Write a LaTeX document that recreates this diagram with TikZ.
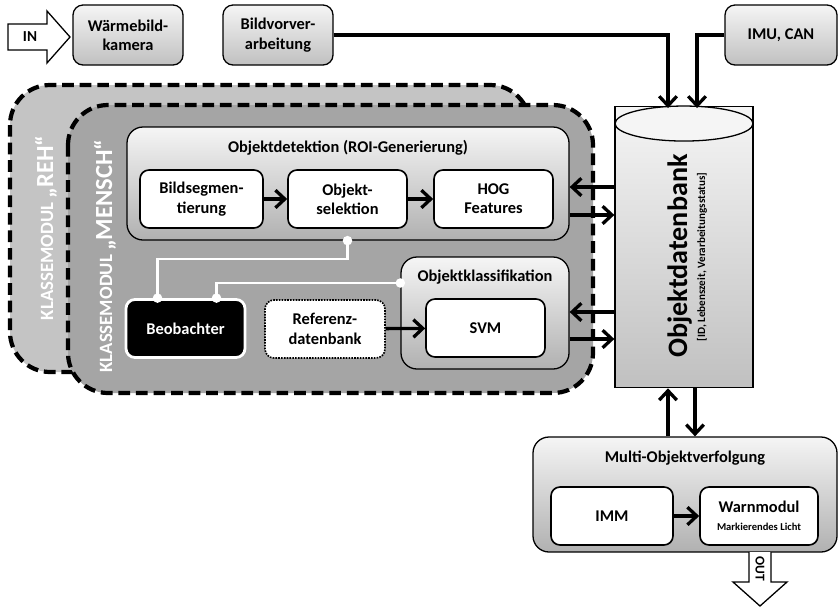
\documentclass[tikz,border=0pt]{standalone}
\usepackage{fontspec}
\setmainfont{Carlito}
\usepackage{tikz}
\usetikzlibrary{
  arrows.meta,
  calc,
  positioning,
  shapes.geometric
}
\definecolor{rehgray}{RGB}{196,196,196}
\definecolor{menschgray}{RGB}{165,165,165}
\definecolor{shadetop}{RGB}{245,245,245}
\definecolor{shadebottom}{RGB}{192,192,192}
\newlength{\pxu}
\setlength{\pxu}{0.03cm}

\tikzset{
  block/.style={draw, line width=1.1pt, rounded corners=10\pxu,
    top color=shadetop, bottom color=shadebottom,
    minimum width=110\pxu, minimum height=60\pxu},
  panel/.style={draw, line width=1.1pt, rounded corners=16\pxu,
    top color=shadetop, bottom color=shadebottom!92!black},
  subbox/.style={draw, line width=1.4pt, rounded corners=9\pxu, fill=white,
    minimum width=119\pxu, minimum height=58\pxu},
  flow/.style={line width=2.8pt, -{Straight Barb[length=8pt,width=15pt,line width=2.8pt]}},
  wire/.style={white, line width=1.8pt, {Circle[length=8pt]}-{Circle[length=8pt]},
    shorten <=-4pt, shorten >=-4pt},
  region/.style={line width=3.6pt, dash pattern=on 10pt off 5pt, rounded corners=40\pxu},
  modlabel/.style={white, rotate=90, anchor=base, font=\fontsize{16}{18}\selectfont\bfseries}
}

\begin{document}
\begin{tikzpicture}[x=0.03cm, y=-0.03cm, font=\fontsize{14}{16.5}\selectfont\bfseries,
  every node/.append style={align=center, inner sep=0pt}]
  \useasboundingbox (0,0) rectangle (839,607);

  % class modules, REH lies behind MENSCH
  \draw[region, fill=rehgray] (10,85) rectangle (530,372);
  \draw[region, fill=menschgray] (68,105) rectangle (593,393);
  \node[modlabel] (rehlabel) at (53,228) {KLASSEMODUL {\fontsize{21}{24}\selectfont „REH“}};
  \node[modlabel] (menschlabel) at (112,256) {KLASSEMODUL {\fontsize{21}{24}\selectfont „MENSCH“}};

  % input chain
  \draw[line width=1.1pt, fill=white] (8,24) -- (47,24) -- (47,11) -- (70,37) -- (47,63) -- (47,50) -- (8,50) -- cycle;
  \node[font=\fontsize{13}{15}\selectfont\bfseries] (in) at (30,37) {IN};
  \node[block] (cam) at (128,35) {Wärmebild-\\kamera};
  \node[block] (prep) at (278,35) {Bildvorver-\\arbeitung};
  \node[block, minimum width=112\pxu] (imu) at (781,35) {IMU, CAN};

  % object database
  \node[cylinder, shape border rotate=90, draw, line width=1.1pt, aspect=0.5,
    minimum width=138\pxu, minimum height=281\pxu,
    top color=shadetop, bottom color=shadebottom] (db) at (684,247.5) {};
  \draw[line width=1.1pt, fill=shadetop] ($(db.north)+(0,17.5)$) ellipse [x radius=69\pxu, y radius=17.5\pxu];
  \node[rotate=90, anchor=base, font=\fontsize{24}{28}\selectfont\bfseries] (dbtitle) at (687,256) {Objektdatenbank};
  \node[rotate=90, anchor=base, font=\fontsize{9.5}{11}\selectfont\bfseries] (dbsub) at (705,257) {[ID, Lebenszeit, Verarbeitungsstatus]};

  % detection
  \node[panel, minimum width=442\pxu, minimum height=113\pxu] (det) at (348,183.5) {};
  \node (dettitle) at (348,148) {Objektdetektion (ROI-Generierung)};
  \node[subbox, minimum width=123\pxu] (seg) at (201.5,199) {Bildsegmen-\\tierung};
  \node[subbox] (sel) at (347.5,199) {Objekt-\\selektion};
  \node[subbox] (hog) at (493.5,199) {HOG\\Features};
  \draw[flow] (seg) -- (sel);
  \draw[flow] (sel) -- (hog);

  % classification
  \node[panel, minimum width=168\pxu, minimum height=112\pxu] (cls) at (485,313) {};
  \node (clstitle) at (485,277) {Objektklassifikation};
  \node[subbox] (svm) at (485.5,328) {SVM};
  \node[subbox, densely dotted, minimum width=120\pxu] (ref) at (325,329) {Referenz-\\datenbank};
  \node[subbox, fill=black, draw=white, line width=2.4pt, text=white] (obs) at (185.5,328.5) {Beobachter};
  \draw[flow] (ref) -- (svm);

  % observer taps
  \draw[wire] (det.south -| sel.south) -- ++(0,18) -| ([xshift=-28\pxu]obs.north);
  \draw[wire] ([yshift=30\pxu]cls.west) -| ([xshift=31\pxu]obs.north);

  % links to the database
  \draw[flow] (prep.east) -| ($(db.north)+(-16,2)$);
  \draw[flow] (imu.west) -| ($(db.north)+(13,2)$);
  \draw[flow] ([yshift=12\pxu]hog.east -| db.west) -- ([yshift=12\pxu]hog.east -| det.east);
  \draw[flow] ([yshift=-16\pxu]hog.east -| det.east) -- ([yshift=-16\pxu]hog.east -| db.west);
  \draw[flow] ([yshift=16\pxu]svm.east -| db.west) -- ([yshift=16\pxu]svm.east -| cls.east);
  \draw[flow] ([yshift=-11\pxu]svm.east -| cls.east) -- ([yshift=-11\pxu]svm.east -| db.west);

  % tracking
  \node[panel, minimum width=304\pxu, minimum height=115\pxu] (track) at (685,494.5) {};
  \node (tracktitle) at (685,458) {Multi-Objektverfolgung};
  \node[subbox, minimum width=122\pxu] (imm) at (612,516) {IMM};
  \node[subbox, minimum width=118\pxu] (warn) at (759,516) {Warnmodul\\[-1pt]{\fontsize{9}{10}\selectfont Markierendes Licht}};
  \draw[flow] (imm) -- (warn);
  \draw[flow] ([xshift=-17\pxu]track.north) -- ([xshift=-17\pxu]track.north |- db.south);
  \draw[flow] ([xshift=10\pxu]track.north |- db.south) -- ([xshift=10\pxu]track.north);

  % output
  \draw[line width=1.1pt, fill=white] (749,552) -- (749,582) -- (733,582) -- (760,606) -- (787,582) -- (771,582) -- (771,552);
  \node[rotate=-90, font=\fontsize{11.5}{13}\selectfont\bfseries] (out) at (760,569) {OUT};
\end{tikzpicture}
\end{document}
